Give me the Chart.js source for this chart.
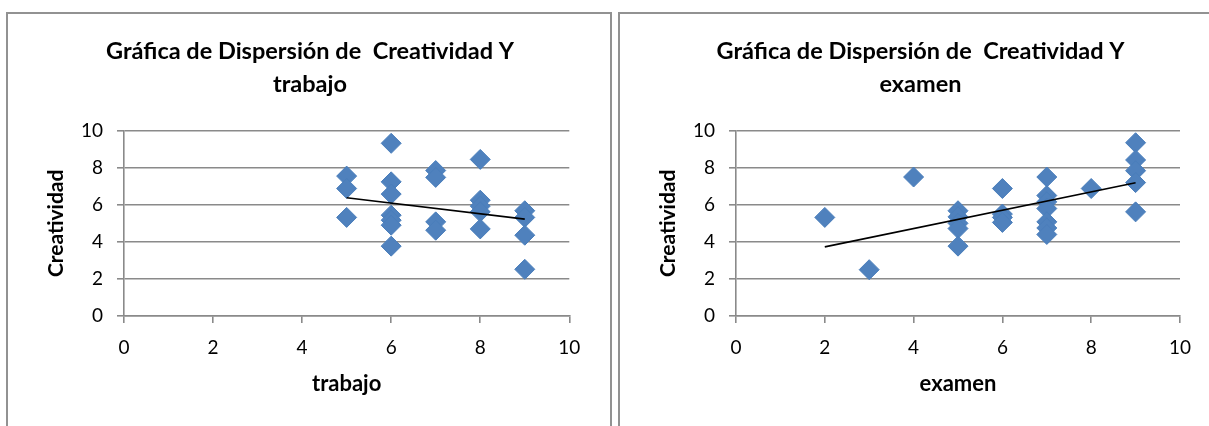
<!DOCTYPE html>
<html lang="es">
<head>
<meta charset="utf-8">
<title>Gráfica de Dispersión de Creatividad</title>
<script src="https://cdn.jsdelivr.net/npm/chart.js@4.4.1/dist/chart.umd.min.js"></script>
<style>
  html, body { margin: 0; padding: 0; background: #fff; }
  body { width: 1209px; height: 426px; overflow: hidden; position: relative; }
  .frame { position: absolute; top: 12px; border-top: 2px solid #929292; border-left: 2px solid #929292; height: 430px; }
  #frameA { left: 6px; width: 602px; border-right: 2px solid #929292; }
  #frameB { left: 618px; width: 600px; }
  canvas { display: block; }
</style>
</head>
<body>
<div class="frame" id="frameA"><canvas id="chartTrabajo" width="602" height="412"></canvas></div>
<div class="frame" id="frameB"><canvas id="chartExamen" width="589" height="412"></canvas></div>
<script>
// Calificación de trabajo vs. creatividad
const trabajo = [5, 5, 5, 6, 6, 6, 6, 6, 6, 6, 7, 7, 7, 7, 8, 8, 8, 8, 8, 9, 9, 9, 9];
const creatividadTrabajo = [7.55, 6.88, 5.32, 9.32, 7.24, 6.58, 5.44, 5.17, 4.9, 3.77, 7.85, 7.48, 5.08, 4.63, 8.45, 6.25, 5.93, 5.62, 4.7, 5.68, 5.32, 4.36, 2.52];
// Línea de tendencia (extremos)
const tendenciaTrabajoX = [5, 9];
const tendenciaTrabajoY = [6.38, 5.23];

// Calificación de examen vs. creatividad
const examen = [2, 3, 4, 5, 5, 5, 5, 5, 6, 6, 6, 6, 7, 7, 7, 7, 7, 7, 7, 8, 9, 9, 9, 9, 9];
const creatividadExamen = [5.32, 2.5, 7.5, 5.68, 5.35, 5.0, 4.72, 3.77, 6.88, 5.5, 5.32, 5.05, 7.5, 6.5, 6.16, 5.8, 5.08, 4.75, 4.4, 6.88, 9.35, 8.42, 7.84, 7.2, 5.62];
const tendenciaExamenX = [2, 9];
const tendenciaExamenY = [3.73, 7.19];

// Ejes
const ejeMin = 0;
const ejeMax = 10;
const ejePaso = 2;

const FONT = 'Lato, "Liberation Sans", sans-serif';
const GRID = '#8a8a8a';

function pares(xs, ys) {
  return xs.map((x, i) => ({ x: x, y: ys[i] }));
}

// Centra el título sobre todo el marco y no solo sobre el área de trazado
const tituloCentrado = {
  id: 'tituloCentrado',
  afterLayout(chart, args, opts) {
    const t = chart.titleBlock;
    if (t) {
      t.left = 0;
      t.right = 2 * opts.centro;
    }
  }
};

function crearGrafica(id, tituloEje, xs, ys, tx, ty, rightPad, centroTitulo) {
  const ctx = document.getElementById(id).getContext('2d');
  return new Chart(ctx, {
    type: 'scatter',
    plugins: [tituloCentrado],
    data: {
      datasets: [
        {
          type: 'line',
          label: 'Tendencia',
          data: pares(tx, ty),
          borderColor: '#000',
          borderWidth: 1.6,
          pointRadius: 0,
          pointHoverRadius: 0,
          fill: false,
          order: 0
        },
        {
          label: 'Creatividad',
          data: pares(xs, ys),
          pointStyle: 'rectRot',
          pointRadius: 10,
          pointHoverRadius: 10,
          backgroundColor: '#4F81BD',
          borderColor: '#4A7EBB',
          borderWidth: 1,
          order: 1
        }
      ]
    },
    options: {
      responsive: false,
      animation: false,
      devicePixelRatio: 1,
      events: [],
      layout: { padding: { left: 0, right: rightPad, top: 0, bottom: 0 } },
      plugins: {
        legend: { display: false },
        tooltip: { enabled: false },
        tituloCentrado: { centro: centroTitulo },
        title: {
          display: true,
          text: ['Gráfica de Dispersión de  Creatividad Y', tituloEje],
          color: '#000',
          font: { family: FONT, size: 23.5, weight: 'bold', lineHeight: '33px' },
          padding: { top: 20.5, bottom: 30.2 }
        }
      },
      scales: {
        x: {
          type: 'linear',
          min: ejeMin,
          max: ejeMax,
          afterFit: (s) => { s.height = 110; },
          ticks: { stepSize: ejePaso, color: '#000', padding: 13, font: { family: FONT, size: 19 } },
          grid: { drawOnChartArea: false, drawTicks: true, tickLength: 7, color: GRID, lineWidth: 1.6 },
          border: { display: true, color: GRID, width: 1.6 },
          title: {
            display: true,
            text: tituloEje,
            color: '#000',
            font: { family: FONT, size: 22, weight: 'bold' },
            padding: { top: 0, bottom: 29 }
          }
        },
        y: {
          type: 'linear',
          min: ejeMin,
          max: ejeMax,
          afterFit: (s) => { s.width = 116; },
          ticks: { stepSize: ejePaso, color: '#000', padding: 14, font: { family: FONT, size: 19 } },
          grid: { drawTicks: true, tickLength: 7, color: GRID, lineWidth: 1.6 },
          border: { display: true, color: GRID, width: 1.6 },
          title: {
            display: true,
            text: 'Creatividad',
            color: '#000',
            font: { family: FONT, size: 21, weight: 'bold' },
            padding: { top: 35.4, bottom: 0 }
          }
        }
      }
    }
  });
}

crearGrafica('chartTrabajo', 'trabajo', trabajo, creatividadTrabajo, tendenciaTrabajoX, tendenciaTrabajoY, 40.7, 302);
crearGrafica('chartExamen', 'examen', examen, creatividadExamen, tendenciaExamenX, tendenciaExamenY, 29, 300.5);
</script>
</body>
</html>
